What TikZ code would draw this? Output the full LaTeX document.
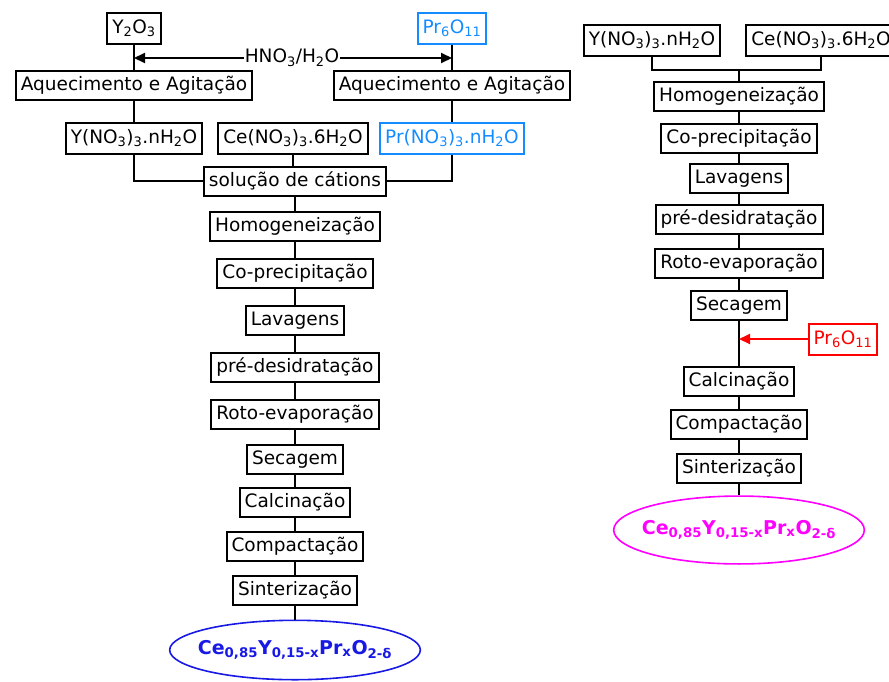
\documentclass[tikz,border=0pt]{standalone}
\usepackage{fontspec}
\setmainfont{DejaVu Sans}
\usetikzlibrary{positioning, arrows.meta, shapes.geometric, calc}
\definecolor{prblue}{RGB}{20,140,255}
\definecolor{oxblue}{RGB}{25,25,230}
\definecolor{oxpink}{RGB}{255,0,255}
\newcommand{\ix}[1]{\textsubscript{#1}}

\begin{document}
\begin{tikzpicture}[x=1pt, y=-1pt,
    stepbox/.style={draw, line width=2pt, font=\fontsize{18.5}{20}\selectfont,
        inner xsep=5pt, minimum height=29pt, text height=14pt, text depth=4pt},
    chembox/.style={stepbox, minimum height=31pt},
    link/.style={line width=2pt},
    tip/.style={-{Triangle[length=11pt, width=10pt]}},
    product/.style={ellipse, draw, line width=1.6pt, inner xsep=-8.5pt,
        text height=13pt, text depth=5pt,
        font=\fontsize{19}{21}\selectfont\bfseries}]
\useasboundingbox (0,0) rectangle (889,681);

    % Left route: oxides dissolved in nitric acid
    \node[chembox] (yox) at (134,28) {Y\ix{2}O\ix{3}};
    \node[chembox, draw=prblue, text=prblue] (prox) at (452,28) {Pr\ix{6}O\ix{11}};
    \node[font=\fontsize{18.5}{20}\selectfont, inner sep=1pt] (acid) at (292,58) {HNO\ix{3}/H\ix{2}O};
    \draw[link, tip] (acid.west) -- (acid.west -| yox.south);
    \draw[link, tip] (acid.east) -- (acid.east -| prox.south);
    \node[stepbox] (heatY) at (134,85) {Aquecimento e Agitação};
    \node[stepbox] (heatPr) at (452,85) {Aquecimento e Agitação};
    \draw[link] (yox) -- (heatY);
    \draw[link] (prox) -- (heatPr);

    % Nitrates
    \node[chembox] (nitY) at (134,138) {Y(NO\ix{3})\ix{3}.nH\ix{2}O};
    \node[chembox] (nitCe) at (293,138) {Ce(NO\ix{3})\ix{3}.6H\ix{2}O};
    \node[chembox, draw=prblue, text=prblue] (nitPr) at (452,138) {Pr(NO\ix{3})\ix{3}.nH\ix{2}O};
    \draw[link] (heatY) -- (nitY);
    \draw[link] (heatPr) -- (nitPr);
    \node[stepbox] (sol) at (295,181) {solução de cátions};
    \draw[link] (nitY.south) |- (sol.west);
    \draw[link] (nitPr.south) |- (sol.east);
    \draw[link] (nitCe.south) -- (nitCe.south |- sol.north);

    % Left processing chain
    \node[stepbox] (hom) at (295,226) {Homogeneização};
    \node[stepbox] (cop) at (295,273) {Co-precipitação};
    \node[stepbox] (lav) at (295,320) {Lavagens};
    \node[stepbox] (pre) at (295,367) {pré-desidratação};
    \node[stepbox] (roto) at (295,414) {Roto-evaporação};
    \node[stepbox] (sec) at (295,459) {Secagem};
    \node[stepbox] (calc) at (295,502) {Calcinação};
    \node[stepbox] (comp) at (295,546) {Compactação};
    \node[stepbox] (sint) at (295,590) {Sinterização};
    \node[product, draw=oxblue, text=oxblue, inner ysep=12pt] (prod) at (295,650)
        {Ce\ix{0,85}Y\ix{0,15-x}Pr\ix{x}O\ix{2-δ}};
    \foreach \a/\b in {sol/hom, hom/cop, cop/lav, lav/pre, pre/roto, roto/sec, sec/calc, calc/comp, comp/sint, sint/prod}
        \draw[link] (\a) -- (\b);

    % Right route: Pr added after drying
    \node[chembox] (nitYR) at (652,40) {Y(NO\ix{3})\ix{3}.nH\ix{2}O};
    \node[chembox] (nitCeR) at (821,40) {Ce(NO\ix{3})\ix{3}.6H\ix{2}O};
    \coordinate (joinR) at (739,70);
    \draw[link] (nitYR.south) |- (joinR) -| (nitCeR.south);
    \node[stepbox] (homR) at (739,96) {Homogeneização};
    \node[stepbox] (copR) at (739,138) {Co-precipitação};
    \node[stepbox] (lavR) at (739,178) {Lavagens};
    \node[stepbox] (preR) at (739,219) {pré-desidratação};
    \node[stepbox] (rotoR) at (739,263) {Roto-evaporação};
    \node[stepbox] (secR) at (739,305) {Secagem};
    \node[stepbox] (calcR) at (739,381) {Calcinação};
    \node[stepbox] (compR) at (739,424) {Compactação};
    \node[stepbox] (sintR) at (739,468) {Sinterização};
    \node[product, draw=oxpink, text=oxpink, inner ysep=15pt] (prodR) at (739,530)
        {Ce\ix{0,85}Y\ix{0,15-x}Pr\ix{x}O\ix{2-δ}};
    \draw[link] (joinR) -- (homR);
    \foreach \a/\b in {homR/copR, copR/lavR, lavR/preR, preR/rotoR, rotoR/secR, secR/calcR, calcR/compR, compR/sintR, sintR/prodR}
        \draw[link] (\a) -- (\b);
    \node[chembox, draw=red, text=red] (prR) at (843,339) {Pr\ix{6}O\ix{11}};
    \draw[link, red, tip] (prR.west) -- (prR.west -| secR.south);
\end{tikzpicture}
\end{document}
